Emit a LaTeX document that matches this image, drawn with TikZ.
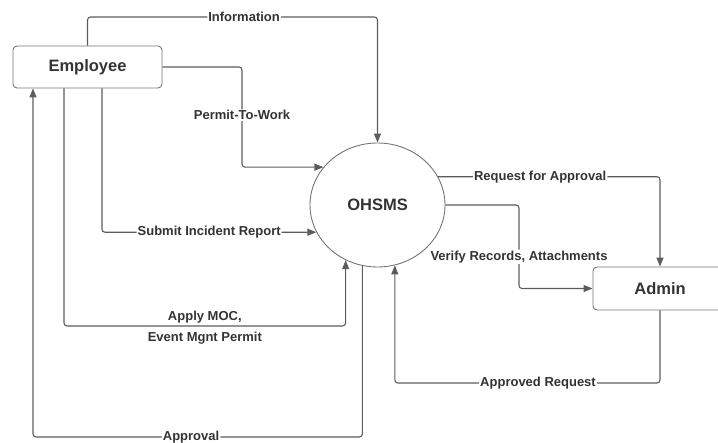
\documentclass[tikz,border=0pt]{standalone}
\usepackage{fontspec}
\setmainfont{Liberation Sans}
\usetikzlibrary{shapes.geometric,arrows.meta}
\definecolor{lineGray}{HTML}{5C5C5C}
\definecolor{textGray}{HTML}{333333}

\begin{document}
\begin{tikzpicture}[x=1pt,y=-1pt,
        entity/.style={draw=lineGray!85,line width=0.9pt,rounded corners=4pt,
            minimum width=149pt,minimum height=42pt,text=textGray,
            font=\fontsize{16.5}{19}\selectfont\bfseries},
        proc/.style={ellipse,draw=lineGray!85,line width=0.9pt,inner sep=0pt,
            minimum width=135pt,minimum height=124pt,text=textGray,
            font=\fontsize{16.5}{19}\selectfont\bfseries},
        flow/.style={draw=lineGray,line width=1.1pt,rounded corners=3pt,
            -{Triangle[length=9pt,width=7pt]}},
        lbl/.style={fill=white,inner sep=1pt,text=textGray,
            font=\fontsize{13}{15}\selectfont\bfseries}]
    \useasboundingbox (0,0) rectangle (718,443);
    \clip (0,0) rectangle (718,443);

    \node [entity] (emp) at (87.5,67) {Employee};
    \node [proc] (ohsms) at (377.5,205) {OHSMS};
    \node [entity,minimum width=134pt,minimum height=43pt] (admin) at (660,288.5) {Admin};

    \draw [flow] (emp.north) -- (emp.north |- 0,17)
        -| (ohsms.north) node [lbl,pos=0.27] {Information};
    \draw [flow] (emp.east) -| (ohsms.145 -| 242,0)
        node [lbl,pos=0.74] {Permit-To-Work} -- (ohsms.145);
    \draw [flow] (emp.south -| 102,0) |- (ohsms.204)
        node [lbl,pos=0.75] {Submit Incident Report};
    \draw [flow] (emp.south -| 64,0) -- (64,326) -| (ohsms.240)
        node [lbl,pos=0.25,above=1pt,fill=none] {Apply MOC,}
        node [lbl,pos=0.25,below=5pt,fill=none] {Event Mgnt Permit};
    \draw [flow] (ohsms.256) |- (33,437)
        node [lbl,pos=0.76] {Approval} -- (emp.south -| 33,0);

    \draw [flow] (ohsms.25) -| (admin.north)
        node [lbl,pos=0.23] {Request for Approval};
    \draw [flow] (ohsms.east) -- (519,205) |- (admin.west)
        node [lbl,pos=0.31] {Verify Records, Attachments};
    \draw [flow] (admin.south) -- (admin.south |- 0,383)
        -| (ohsms.286) node [lbl,pos=0.23] {Approved Request};
\end{tikzpicture}
\end{document}
